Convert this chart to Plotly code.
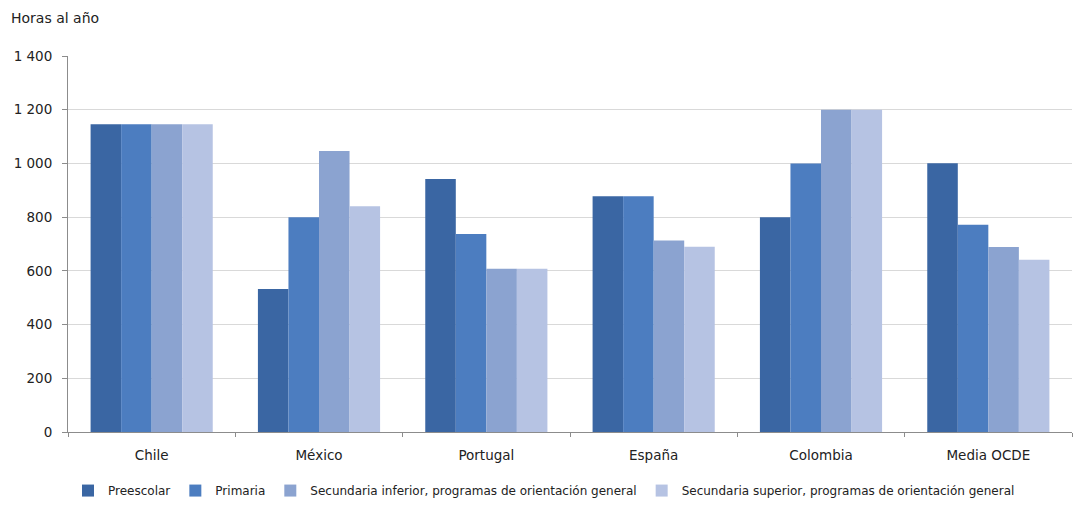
import plotly.graph_objects as go

# Horas de instrucción obligatoria al año por nivel educativo
paises = ["Chile", "México", "Portugal", "España", "Colombia", "Media OCDE"]
preescolar = [1146, 532, 942, 878, 800, 1001]
primaria = [1146, 800, 737, 878, 1000, 772]
sec_inferior = [1146, 1046, 608, 713, 1200, 689]
sec_superior = [1146, 841, 608, 690, 1200, 641]

series_nombres = [
    "Preescolar",
    "Primaria",
    "Secundaria inferior, programas de orientación general",
    "Secundaria superior, programas de orientación general",
]
colores = ["#3A66A3", "#4C7DC0", "#8BA3D0", "#B6C3E3"]

y_ticks = [0, 200, 400, 600, 800, 1000, 1200, 1400]
y_ticktext = ["0", "200", "400", "600", "800", "1 000", "1 200", "1 400"]

fuente = "DejaVu Sans, Open Sans, sans-serif"

fig = go.Figure()
for nombre, valores, color in zip(series_nombres,
                                  [preescolar, primaria, sec_inferior, sec_superior],
                                  colores):
    fig.add_trace(go.Bar(
        x=paises, y=valores, name=nombre,
        marker=dict(color=color, line=dict(width=0)),
    ))

fig.update_layout(
    width=1073, height=511,
    margin=dict(l=68, r=1, t=56, b=79, autoexpand=False),
    paper_bgcolor="white", plot_bgcolor="white",
    barmode="group", bargap=0.27, bargroupgap=0,
    font=dict(family=fuente, size=13.5, color="#222222"),
    showlegend=True,
    legend=dict(
        orientation="h", xref="paper", x=0.0, xanchor="left",
        yref="container", y=0.04, yanchor="middle",
        font=dict(family=fuente, size=12, color="#222222"), itemwidth=30,
        tracegroupgap=0,
    ),
    annotations=[dict(
        text="Horas al año", xref="paper", yref="paper",
        x=-0.059, y=1.101, xanchor="left", yanchor="middle",
        showarrow=False, font=dict(family=fuente, size=14, color="#222222"),
    )],
)

fig.update_xaxes(
    showline=True, linecolor="#8C8C8C", linewidth=1,
    ticks="outside", tickson="boundaries", ticklen=4, tickcolor="#8C8C8C",
    showgrid=False, tickfont=dict(family=fuente, size=13.5),
    ticklabelstandoff=11,
)
fig.update_yaxes(
    range=[0, 1400], tickvals=y_ticks, ticktext=y_ticktext,
    showline=True, linecolor="#8C8C8C", linewidth=1,
    ticks="outside", ticklen=5, tickcolor="#8C8C8C",
    showgrid=True, gridcolor="#D9D9D9", gridwidth=1,
    zeroline=False, tickfont=dict(family=fuente, size=13.5),
    ticklabelstandoff=7,
)

fig.write_html("out.html")
